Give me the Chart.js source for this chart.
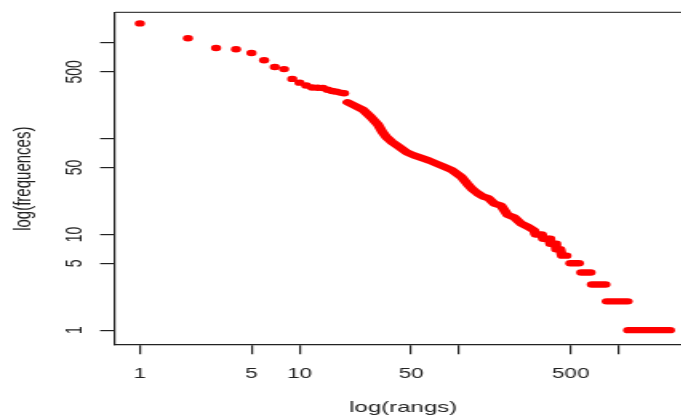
<!DOCTYPE html>
<html>
<head>
<meta charset="utf-8">
<script src="https://cdn.jsdelivr.net/npm/chart.js@4"></script>
<style>
  html, body { margin: 0; padding: 0; background: #fff; overflow: hidden; }
  /* the reference is an R plot stretched sideways, so draw narrow and stretch */
  #wrap { width: 440px; height: 417px; transform: scaleX(1.6); transform-origin: 0 0; }
</style>
</head>
<body>
<div id="wrap"><canvas id="zipf" width="440" height="417"></canvas></div>
<script>
// ranks 1..19 show as single dots
const dotRanks = [1, 2, 3, 4, 5, 6, 7, 8, 9, 10, 11, 12, 13, 14, 15, 16, 17, 18, 19];
const dotFreqs = [1600, 1120, 886, 860, 786, 660, 560, 533, 421, 385, 360, 342, 340, 338, 324, 315, 310, 303, 298];

// dense part of the curve, read along its middle
const curveRanks = [20, 22, 25, 28, 31, 33, 35, 38, 42, 47, 52, 58, 65, 72, 80, 90, 103, 112, 120, 130,
                    140, 152, 166, 183, 201, 222, 244, 270, 295, 300, 330, 335, 365, 372, 400, 405, 430, 440, 470];
const curveFreqs = [240, 222, 200, 168, 140, 118, 104, 92, 82, 72, 67, 63, 59, 55, 51, 47, 40, 34, 30, 27,
                    25, 24, 21, 20, 16, 15, 13, 12, 11, 10, 10, 9, 9, 8, 8, 7, 7, 6, 6];

// low frequencies: runs of equal frequency (first and last rank)
const stepFreqs = [5, 4, 3, 2, 1];
const stepFirst = [497, 582, 678, 840, 1144];
const stepLast = [562, 665, 824, 1135, 2090];

const xTickValues = [1, 5, 10, 50, 100, 500, 1000];
const xTickLabels = ['1', '5', '10', '50', '', '500', ''];
const yTickValues = [1, 5, 10, 50, 100, 500, 1000];
const yTickLabels = ['1', '5', '10', '50', '', '500', ''];

Chart.defaults.font.family = "'Liberation Sans', Arial, sans-serif";
Chart.defaults.color = '#222';

const red = '#ff0000';

const datasets = [{
    data: dotRanks.map((r, i) => ({x: r, y: dotFreqs[i]})),
    showLine: false,
    pointRadius: 3.2,
    pointBorderWidth: 0,
    pointBackgroundColor: red
}, {
    data: curveRanks.map((r, i) => ({x: r, y: curveFreqs[i]})),
    showLine: true,
    pointRadius: 0,
    borderColor: red,
    borderWidth: 6.4,
    borderCapStyle: 'round',
    borderJoinStyle: 'round'
}];

stepFreqs.forEach((f, i) => {
    datasets.push({
        data: [{x: stepFirst[i], y: f}, {x: stepLast[i], y: f}],
        showLine: true,
        pointRadius: 0,
        borderColor: red,
        borderWidth: 6.4,
        borderCapStyle: 'round'
    });
});

// top side of the R box
const topLine = {
    id: 'topLine',
    afterDraw(chart) {
        const a = chart.chartArea, c = chart.ctx;
        c.save();
        c.strokeStyle = '#444';
        c.lineWidth = 1.2;
        c.beginPath();
        c.moveTo(a.left, a.top);
        c.lineTo(a.right + 10, a.top);
        c.stroke();
        c.restore();
    }
};

new Chart(document.getElementById('zipf'), {
    type: 'scatter',
    data: { datasets: datasets },
    plugins: [topLine],
    options: {
        responsive: false,
        animation: false,
        layout: {
            autoPadding: false,
            padding: { left: 0, top: 11, right: 8, bottom: 0 }
        },
        plugins: {
            legend: { display: false },
            tooltip: { enabled: false }
        },
        scales: {
            x: {
                type: 'logarithmic',
                min: 0.74,
                max: 2838,
                afterBuildTicks: (s) => { s.ticks = xTickValues.map(v => ({value: v})); },
                afterFit: (s) => { s.height = 72; },
                ticks: {
                    autoSkip: false,
                    maxRotation: 0,
                    padding: 11,
                    font: { size: 14 },
                    callback: (v, i) => xTickLabels[i]
                },
                grid: { drawOnChartArea: false, tickLength: 9.3, color: '#222', lineWidth: 1.2 },
                border: { display: true, color: '#222', width: 1.2 },
                title: {
                    display: true,
                    text: 'log(rangs)',
                    font: { size: 15 },
                    padding: { top: 0, bottom: 0 }
                }
            },
            y: {
                type: 'logarithmic',
                min: 0.74,
                max: 2085,
                afterBuildTicks: (s) => { s.ticks = yTickValues.map(v => ({value: v})); },
                afterFit: (s) => { s.width = 72; },
                ticks: {
                    autoSkip: false,
                    minRotation: 90,
                    maxRotation: 90,
                    crossAlign: 'center',
                    padding: 4,
                    font: { size: 14 },
                    callback: (v, i) => yTickLabels[i]
                },
                grid: { drawOnChartArea: false, tickLength: 9.4, color: '#222', lineWidth: 1.2 },
                border: { display: true, color: '#222', width: 1.2 },
                title: {
                    display: true,
                    text: 'log(frequences)',
                    font: { size: 15 },
                    padding: { top: 5.4, bottom: 0 }
                }
            }
        }
    }
});
</script>
</body>
</html>
